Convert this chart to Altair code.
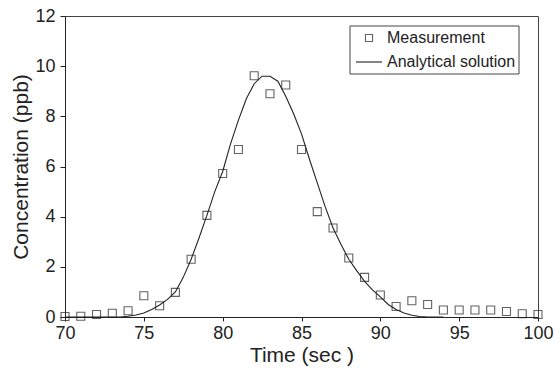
import altair as alt
import pandas as pd

# Measured concentrations (ppb) at each second
meas_time = list(range(70, 101))
meas_conc = [0.02, 0.03, 0.1, 0.15, 0.25, 0.85, 0.45, 0.98, 2.3, 4.05,
             5.72, 6.68, 9.62, 8.9, 9.25, 6.68, 4.2, 3.55, 2.35, 1.58,
             0.88, 0.42, 0.65, 0.5, 0.28, 0.28, 0.28, 0.28, 0.22, 0.13, 0.1]

# Analytical solution
model_time = [70, 71, 72, 73, 73.5, 74, 74.5, 75, 75.5, 76, 76.5, 77, 77.5,
              78, 78.5, 79, 79.5, 80, 80.5, 81, 81.5, 82, 82.5, 83, 83.5,
              84, 84.5, 85, 85.5, 86, 86.5, 87, 87.5, 88, 88.5, 89, 89.5,
              90, 90.5, 91, 91.5, 92, 92.5, 93, 94]
model_conc = [0, 0, 0, 0, 0.0, 0.03, 0.08, 0.16, 0.3, 0.48, 0.7, 1.0, 1.58,
              2.3, 3.15, 4.05, 5.0, 5.8, 6.9, 7.85, 8.7, 9.3, 9.6, 9.6, 9.4,
              8.8, 8.1, 7.3, 6.3, 5.35, 4.4, 3.55, 2.9, 2.3, 1.85, 1.42, 1.08,
              0.8, 0.5, 0.3, 0.16, 0.07, 0.02, 0, 0]

legend_labels = ["Measurement", "Analytical solution"]
x_ticks = [70, 75, 80, 85, 90, 95, 100]
y_ticks = [0, 2, 4, 6, 8, 10, 12]

FONT = "Liberation Sans"
INK = "#222222"

meas_df = pd.DataFrame({"t": meas_time, "c": meas_conc})
model_df = pd.DataFrame({"t": model_time, "c": model_conc})

xscale = alt.Scale(domain=[70, 100], nice=False, zero=False)
yscale = alt.Scale(domain=[0, 12], nice=False)

xaxis = alt.Axis(values=x_ticks, title="Time (sec )", grid=False,
                 labelFontSize=18, titleFontSize=21, labelColor=INK,
                 titleColor=INK, titleFontWeight="normal", labelFont=FONT,
                 titleFont=FONT, tickSize=4, tickColor=INK, domainColor=INK,
                 labelPadding=3, titlePadding=2, labelFlush=False)
yaxis = alt.Axis(values=y_ticks, title="Concentration (ppb)", grid=False,
                 labelFontSize=18, titleFontSize=21, labelColor=INK,
                 titleColor=INK, titleFontWeight="normal", labelFont=FONT,
                 titleFont=FONT, tickSize=5, tickColor=INK, domainColor=INK,
                 labelPadding=5, titlePadding=3, labelFlush=False)

line = alt.Chart(model_df).mark_line(color=INK, strokeWidth=1.1).encode(
    x=alt.X("t:Q", scale=xscale, axis=xaxis),
    y=alt.Y("c:Q", scale=yscale, axis=yaxis),
)

points = alt.Chart(meas_df).mark_point(
    shape="square", size=64, filled=False, color=INK, strokeWidth=1.1
).encode(
    x=alt.X("t:Q", scale=xscale),
    y=alt.Y("c:Q", scale=yscale),
)

one = pd.DataFrame({"a": [0]})
leg_box = alt.Chart(one).mark_rect(fill="white", stroke="#444444", strokeWidth=1).encode(
    x=alt.value(285), x2=alt.value(454), y=alt.value(10), y2=alt.value(58)
)
leg_pt = alt.Chart(one).mark_point(
    shape="square", size=50, filled=False, color=INK, strokeWidth=1.1
).encode(x=alt.value(304), y=alt.value(22))
leg_line = alt.Chart(one).mark_rule(color=INK, strokeWidth=1.1).encode(
    x=alt.value(291), x2=alt.value(317), y=alt.value(46)
)
leg_t1 = alt.Chart(one).mark_text(
    align="left", baseline="middle", fontSize=16, font=FONT, color=INK
).encode(x=alt.value(322), y=alt.value(22), text=alt.value(legend_labels[0]))
leg_t2 = alt.Chart(one).mark_text(
    align="left", baseline="middle", fontSize=16, font=FONT, color=INK
).encode(x=alt.value(322), y=alt.value(46), text=alt.value(legend_labels[1]))

chart = alt.layer(line, points, leg_box, leg_pt, leg_line, leg_t1, leg_t2).properties(
    width=473, height=301,
    autosize=alt.AutoSizeParams(type="none"),
    padding={"left": 65, "top": 16, "right": 22, "bottom": 51},
    background="white",
).configure_view(stroke="#444444", strokeWidth=1)

chart.save("out.html", embed_options={"renderer": "svg", "actions": False})
